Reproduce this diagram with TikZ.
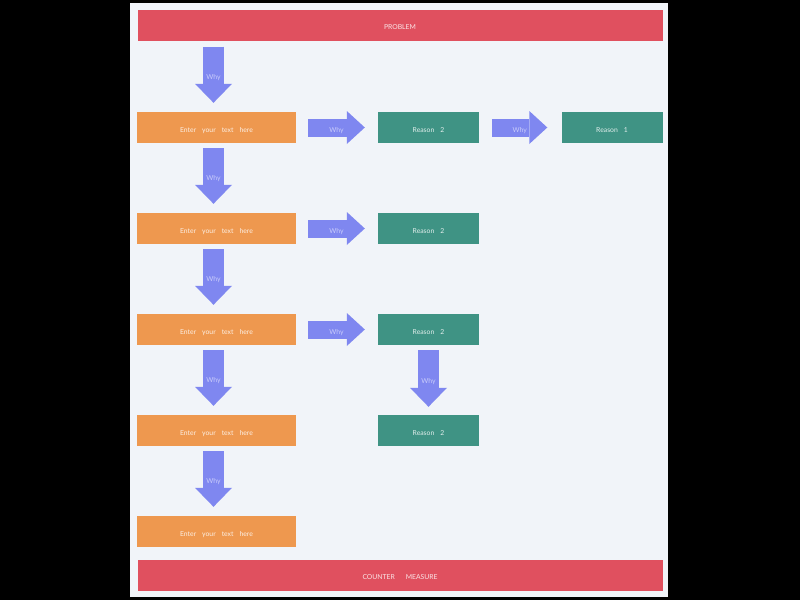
\documentclass[tikz,border=0pt]{standalone}
\usepackage{fontspec}
\setmainfont{Lato}
\usetikzlibrary{arrows.meta}
\definecolor{bad}{HTML}{E0505F}\definecolor{orng}{HTML}{EE984F}\definecolor{tl}{HTML}{3F9384}
\definecolor{arw}{HTML}{7F87F0}\definecolor{pnl}{HTML}{F1F4F9}\definecolor{whyc}{HTML}{C9CCFB}
\newcommand\widesp{\spaceskip6pt\relax}
\begin{document}
\begin{tikzpicture}[x=1pt,y=-1pt,font=\fontsize{6.8}{8}\selectfont\widesp,
box/.style={minimum height=31pt,inner sep=0pt,text height=9pt,text depth=0pt,text=white,text opacity=.85},
ent/.style={box,fill=orng,minimum width=159pt},rsn/.style={box,fill=tl,minimum width=101pt},bar/.style={box,fill=bad,minimum width=525pt},
dwn/.style={draw=arw,line width=21pt,-{Triangle[width=37pt,length=19pt,line width=0pt]}},
rgt/.style={draw=arw,line width=18pt,-{Triangle[width=33pt,length=18pt,line width=0pt]}},
why/.style={midway,text=whyc,inner sep=0pt,text height=9pt,text depth=0pt}]
\useasboundingbox(0,0)rectangle(800,600);\fill[black](0,0)rectangle(800,600);\fill[pnl](130,3)rectangle(668,597);
\node[bar](P)at(400,25){PROBLEM};\node[bar](C)at(400,575){COUNTER\hspace{11pt}MEASURE};
\foreach\i/\y in{1/127.5,2/228.5,3/329.5,4/430.5,5/531.5}{\node[ent](E\i)at(216.5,\y){Enter your text here};}
\foreach\i/\y in{1/127.5,2/228.5,3/329.5,4/430.5}{\node[rsn](R\i)at(428.5,\y){Reason 2};}
\node[rsn](R0)at(612,127.5){Reason 1};
% down arrows
\path(P.south-|E1)coordinate(p0);
\draw[dwn]([xshift=-3pt,yshift=-6pt]p0)--([xshift=-3pt,yshift=9pt]E1.north)node[why]{Why};
\foreach\a/\b in{1/2,2/3,3/4,4/5}{\draw[dwn]([xshift=-3pt,yshift=-5pt]E\a.south)--([xshift=-3pt,yshift=9pt]E\b.north)node[why]{Why};}
\draw[dwn]([yshift=-5pt]R3.south)--([yshift=8pt]R4.north)node[why]{Why};
% right arrows
\foreach\i in{1,2,3}{\draw[rgt]([xshift=12pt]E\i.east)--([xshift=-13pt]R\i.west)node[why]{Why};}
\draw[rgt]([xshift=13pt]R1.east)--([xshift=-14pt]R0.west)node[why]{Why};
\end{tikzpicture}
\end{document}
